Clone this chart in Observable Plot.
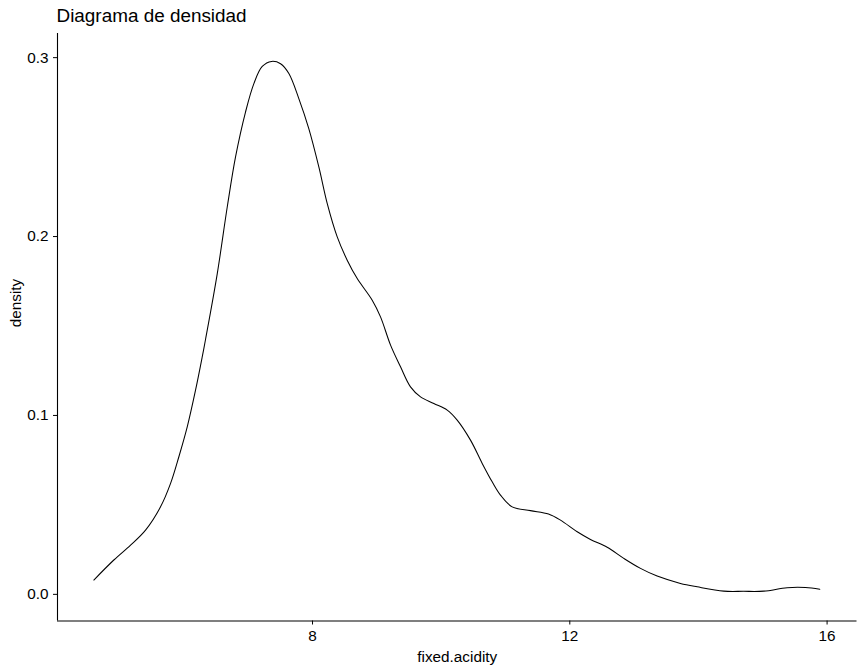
<!DOCTYPE html>
<html>
<head>
<meta charset="utf-8">
<script src="https://cdn.jsdelivr.net/npm/d3@7"></script>
<script src="https://cdn.jsdelivr.net/npm/@observablehq/plot@0.6"></script>
<style>
  html, body { margin: 0; padding: 0; background: #fff; }
  #title { box-sizing: border-box; height: 30px; padding: 6.8px 0 0 56.5px; font-family: "Liberation Sans", Arial, sans-serif; font-size: 18.9px; line-height: 1; color: #000; }
  svg { display: block; }
</style>
</head>
<body>
<div id="title">Diagrama de densidad</div>
<div id="chart"></div>
<script>
const titleText = "Diagrama de densidad";
const xLabel = "fixed.acidity";
const yLabel = "density";
const xTicks = [8, 12, 16];
const yTicks = [0, 0.1, 0.2, 0.3];
const xDomain = [4.035, 16.465];
const yDomain = [-0.0149, 0.3135];

const acidity = [4.600, 4.911, 5.171, 5.404, 5.637, 5.793, 5.922, 6.052, 6.181, 6.285,
  6.337, 6.519, 6.674, 6.803, 6.958, 7.088, 7.218, 7.363, 7.503, 7.632,
  7.787, 7.942, 8.098, 8.229, 8.384, 8.539, 8.695, 8.928, 9.057, 9.213,
  9.368, 9.523, 9.679, 9.886, 10.094, 10.249, 10.456, 10.638, 10.793, 10.922,
  11.104, 11.389, 11.669, 11.855, 12.115, 12.321, 12.581, 12.839, 13.099, 13.358,
  13.720, 13.980, 14.394, 14.700, 15.015, 15.379, 15.664, 15.886];
const density = [0.0080, 0.0192, 0.0275, 0.0359, 0.0489, 0.0620, 0.0769, 0.0936, 0.1141, 0.1327,
  0.1426, 0.1793, 0.2165, 0.2445, 0.2696, 0.2855, 0.2951, 0.2979, 0.2966, 0.2911,
  0.2771, 0.2603, 0.2389, 0.2184, 0.1998, 0.1868, 0.1765, 0.1644, 0.1551, 0.1393,
  0.1272, 0.1160, 0.1104, 0.1067, 0.1030, 0.0974, 0.0862, 0.0732, 0.0629, 0.0555,
  0.0489, 0.0468, 0.0449, 0.0415, 0.0350, 0.0307, 0.0263, 0.0201, 0.0145, 0.0102,
  0.0061, 0.0042, 0.0018, 0.0017, 0.0018, 0.0037, 0.0038, 0.0028];

const data = acidity.map((x, i) => ({x, y: density[i]}));
document.getElementById("title").textContent = titleText;

const chart = Plot.plot({
  width: 864,
  height: 642,
  marginTop: 3,
  marginBottom: 51.5,
  marginLeft: 57,
  marginRight: 7.5,
  style: {fontFamily: "Liberation Sans, Arial, sans-serif", fontSize: "15px", color: "#000", background: "#fff"},
  x: {domain: xDomain},
  y: {domain: yDomain},
  marks: [
    Plot.axisX({ticks: xTicks, tickSize: 4, tickPadding: 5, label: null, fontSize: 15.3, tickFormat: d3.format("d")}),
    Plot.axisY({ticks: yTicks, tickSize: 4, tickPadding: 5, label: null, fontSize: 15.3, tickFormat: d3.format(".1f")}),
    Plot.ruleY([yDomain[0]], {stroke: "#000", strokeWidth: 1.1}),
    Plot.ruleX([xDomain[0]], {stroke: "#000", strokeWidth: 1.1}),
    Plot.line(data, {x: "x", y: "y", stroke: "#000", strokeWidth: 1.05, curve: "catmull-rom"}),
    Plot.text([xLabel], {text: d => d, frameAnchor: "bottom", dy: 40.5, lineAnchor: "bottom", fontSize: 15.3, fill: "#000"}),
    Plot.text([yLabel], {text: d => d, frameAnchor: "left", dx: -37, rotate: -90, lineAnchor: "bottom", fontSize: 15.3, fill: "#000"})
  ]
});
document.getElementById("chart").appendChild(chart);
</script>
</body>
</html>
